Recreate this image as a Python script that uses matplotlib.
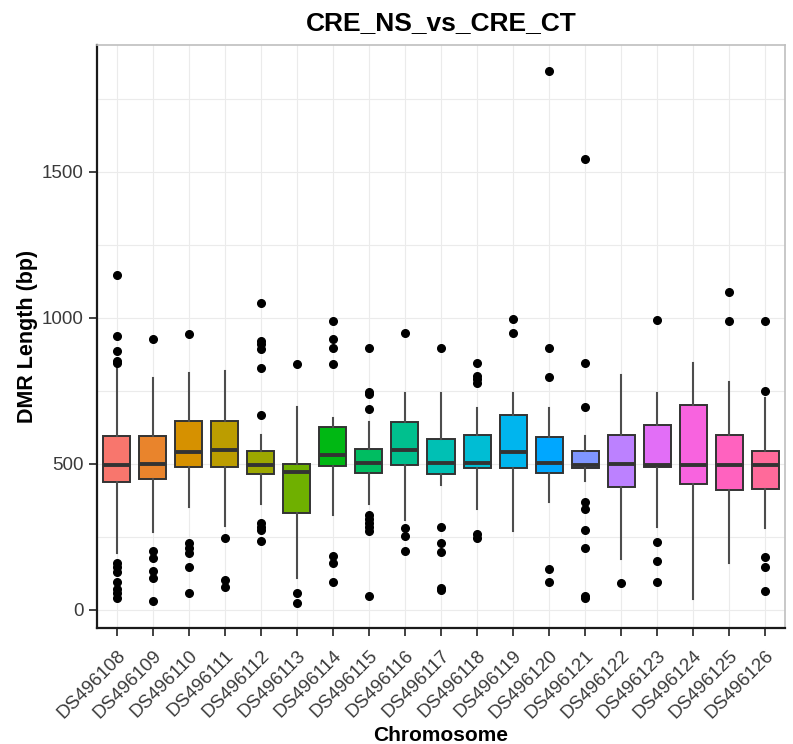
import numpy as np
import matplotlib
matplotlib.use("Agg")
from matplotlib import pyplot as plt

plt.rcParams["font.family"] = ["Liberation Sans", "DejaVu Sans"]

# chromosome names
chroms = ["DS496108", "DS496109", "DS496110", "DS496111", "DS496112",
          "DS496113", "DS496114", "DS496115", "DS496116", "DS496117",
          "DS496118", "DS496119", "DS496120", "DS496121", "DS496122",
          "DS496123", "DS496124", "DS496125", "DS496126"]

# box summary values (bp)
q1 = [437, 448, 491, 491, 466, 331, 493, 470, 497, 465,
      485, 485, 470, 485, 422, 491, 432, 409, 413]
med = [497, 500, 542, 547, 497, 474, 531, 502, 548, 502,
       502, 542, 502, 497, 499, 497, 497, 497, 497]
q3 = [597, 594, 647, 647, 546, 499, 627, 551, 643, 586,
      598, 666, 591, 545, 599, 634, 702, 598, 546]
whislo = [194, 266, 352, 289, 363, 108, 325, 363, 308, 428,
          345, 271, 368, 442, 174, 285, 37, 160, 280]
whishi = [845, 796, 813, 818, 599, 696, 656, 645, 744, 744,
          691, 744, 691, 594, 805, 744, 845, 780, 727]

# outliers
fliers = [
    [1147, 938, 887, 852, 845, 160, 148, 131, 97, 71, 57, 42],
    [928, 202, 177, 134, 108, 29],
    [945, 228, 211, 194, 148, 57],
    [245, 103, 80],
    [1052, 921, 910, 893, 828, 668, 297, 285, 274, 237],
    [842, 57, 25],
    [990, 927, 896, 842, 185, 160, 94],
    [898, 748, 740, 688, 325, 311, 297, 283, 271, 49],
    [947, 280, 253, 202],
    [898, 283, 228, 200, 76, 68],
    [847, 801, 790, 778, 260, 245],
    [995, 947],
    [1846, 896, 799, 139, 95],
    [1545, 845, 694, 371, 345, 272, 211, 49, 40],
    [91],
    [993, 231, 168, 97],
    [],
    [1090, 991],
    [991, 749, 180, 146, 66],
]


def hue_colors(n, l=65, c=100):
    # ggplot-style evenly spaced HCL hues -> sRGB
    hues = np.linspace(15, 375, n + 1)[:n]
    Xn, Yn, Zn = 95.047, 100.0, 108.883
    un = 4 * Xn / (Xn + 15 * Yn + 3 * Zn)
    vn = 9 * Yn / (Xn + 15 * Yn + 3 * Zn)
    M = np.array([[3.2404542, -1.5371385, -0.4985314],
                  [-0.9692660, 1.8760108, 0.0415560],
                  [0.0556434, -0.2040259, 1.0572252]])
    out = []
    for h in hues:
        u = c * np.cos(np.radians(h))
        v = c * np.sin(np.radians(h))
        Y = Yn * ((l + 16) / 116) ** 3
        up = u / (13 * l) + un
        vp = v / (13 * l) + vn
        X = Y * 9 * up / (4 * vp)
        Z = Y * (12 - 3 * up - 20 * vp) / (4 * vp)
        rgb = M @ (np.array([X, Y, Z]) / 100)
        rgb = np.where(rgb <= 0.0031308, 12.92 * rgb,
                       1.055 * np.abs(rgb) ** (1 / 2.4) - 0.055)
        out.append(np.clip(rgb, 0, 1))
    return out


cols = hue_colors(len(chroms))

stats = []
for i, name in enumerate(chroms):
    stats.append(dict(label=name, q1=q1[i], med=med[i], q3=q3[i],
                      whislo=whislo[i], whishi=whishi[i], fliers=fliers[i]))

fig = plt.figure(figsize=(7.93, 7.44), dpi=100)
ax = fig.add_axes([97 / 793, 1 - 628 / 744, (785 - 97) / 793, (628 - 45) / 744])

pos = np.arange(1, len(chroms) + 1)
bp = ax.bxp(stats, positions=pos, widths=0.75, patch_artist=True,
            boxprops=dict(edgecolor="#333333", linewidth=1.4),
            medianprops=dict(color="#333333", linewidth=2.8),
            whiskerprops=dict(color="#4d4d4d", linewidth=1.5),
            capprops=dict(linewidth=0),
            flierprops=dict(marker="o", markerfacecolor="black",
                            markeredgecolor="black", markersize=5.5),
            zorder=3)
for patch, col in zip(bp["boxes"], cols):
    patch.set_facecolor(col)

ax.set_xlim(0.45, len(chroms) + 0.55)
ax.set_ylim(-62, 1935)
ax.set_yticks([0, 500, 1000, 1500])
ax.set_yticks([250, 750, 1250, 1750], minor=True)
ax.set_xticks(pos)
ax.set_xticklabels(chroms, rotation=45, ha="right", rotation_mode="anchor")

ax.grid(True, which="both", color="#ebebeb", linewidth=0.8, zorder=0)
ax.set_axisbelow(True)
ax.tick_params(axis="y", which="minor", length=0)
ax.tick_params(which="major", length=6, width=1.3, color="#333333",
               labelsize=13.5, labelcolor="#3a3a3a")
ax.tick_params(axis="x", pad=8)

for side in ["left", "bottom"]:
    ax.spines[side].set_color("#1a1a1a")
    ax.spines[side].set_linewidth(1.6)
for side in ["top", "right"]:
    ax.spines[side].set_color("#bfbfbf")
    ax.spines[side].set_linewidth(1.2)

ax.set_title("CRE_NS_vs_CRE_CT", fontsize=19, fontweight="bold", pad=11)
ax.set_ylabel("DMR Length (bp)", fontsize=15.5, fontweight="bold", labelpad=3)
ax.set_xlabel("Chromosome", fontsize=15, fontweight="bold", labelpad=3)

fig.savefig("out.png", dpi=100, facecolor="white")
